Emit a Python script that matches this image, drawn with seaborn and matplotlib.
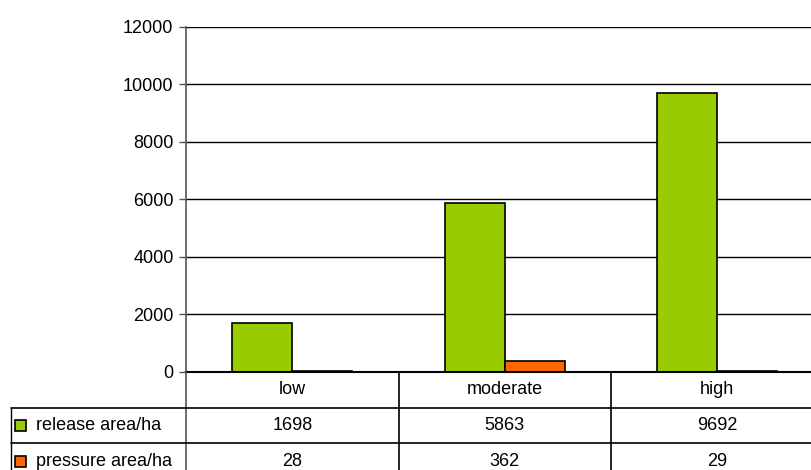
import matplotlib
matplotlib.use("Agg")
import matplotlib.pyplot as plt
import matplotlib.transforms as mtransforms
from matplotlib.lines import Line2D
from matplotlib.patches import Rectangle
import pandas as pd
import seaborn as sns

# DATA
categories = ["low", "moderate", "high"]
series_names = ["release area/ha", "pressure area/ha"]
release_area = [1698, 5863, 9692]
pressure_area = [28, 362, 29]
colors = ["#99CC00", "#FF6600"]

df = pd.DataFrame({
    "category": categories * 2,
    "series": [series_names[0]] * 3 + [series_names[1]] * 3,
    "value": release_area + pressure_area,
})

sns.set_style("white")
plt.rcParams["font.family"] = ["Liberation Sans", "DejaVu Sans"]
plt.rcParams["text.color"] = "black"
plt.rcParams["ytick.labelcolor"] = "black"

W, H = 811, 470
fig = plt.figure(figsize=(W / 100, H / 100), dpi=100)


def fx(px):
    return px / W


def fy(py):
    return 1 - py / H


# plot area (runs a bit past the right edge, like the original crop)
ax_left, ax_right = 186, 823.5
ax_top, ax_bottom = 26.7, 371.7
ax = fig.add_axes([fx(ax_left), fy(ax_bottom), fx(ax_right - ax_left), (ax_bottom - ax_top) / H])

sns.barplot(
    data=df,
    x="category",
    y="value",
    hue="series",
    order=categories,
    hue_order=series_names,
    palette=colors,
    saturation=1,
    width=0.567,
    gap=0,
    edgecolor="black",
    linewidth=1.2,
    legend=False,
    ax=ax,
)

ax.set_xlim(-0.5, len(categories) - 0.5)
ax.set_ylim(0, 12000)
ax.set_yticks(range(0, 12001, 2000))
ax.yaxis.grid(True, color="black", linewidth=1)
ax.set_axisbelow(True)
ax.set_xlabel("")
ax.set_ylabel("")
ax.set_xticks([])
ax.tick_params(axis="y", labelsize=13, length=5, width=1, color="#555555",
               direction="out", left=True, pad=4, labelcolor="black")
for s in ["top", "right"]:
    ax.spines[s].set_visible(False)
ax.spines["bottom"].set_color("black")
ax.spines["bottom"].set_linewidth(1.5)
ax.spines["bottom"].set_zorder(5)
ax.spines["left"].set_color("#555555")
ax.spines["left"].set_linewidth(1.2)

# DATA TABLE
row_lines = [407.7, 443.3]
table_left = 10.7
blend = mtransforms.blended_transform_factory(ax.transData, fig.transFigure)

# vertical cell borders at category boundaries
for b in [-0.5 + i for i in range(len(categories) + 1)]:
    fig.add_artist(Line2D([b, b], [fy(ax_bottom), fy(490)], transform=blend,
                          color="black" if b != -0.5 else "#555555", linewidth=1.2))
fig.add_artist(Line2D([fx(table_left), fx(table_left)], [fy(row_lines[0]), fy(490)],
                      transform=fig.transFigure, color="black", linewidth=1))
for r in row_lines:
    fig.add_artist(Line2D([fx(table_left), 1], [fy(r), fy(r)],
                          transform=fig.transFigure, color="black", linewidth=1.2))

# header row
for i, cat in enumerate(categories):
    fig.text(i, fy(389.7), cat, transform=blend, ha="center", va="center", fontsize=13)

# value rows
row_centers = [425.5, 461]
for r, (name, vals, c) in enumerate(zip(series_names, [release_area, pressure_area], colors)):
    yc = row_centers[r]
    fig.add_artist(Rectangle((fx(15), fy(yc + 5.5)), fx(11), 11 / H, transform=fig.transFigure,
                             facecolor=c, edgecolor="black", linewidth=1.2))
    fig.text(fx(36), fy(yc), name, ha="left", va="center", fontsize=13)
    for i, v in enumerate(vals):
        fig.text(i, fy(yc), str(v), transform=blend, ha="center", va="center", fontsize=13)

fig.savefig("out.png", dpi=100)
